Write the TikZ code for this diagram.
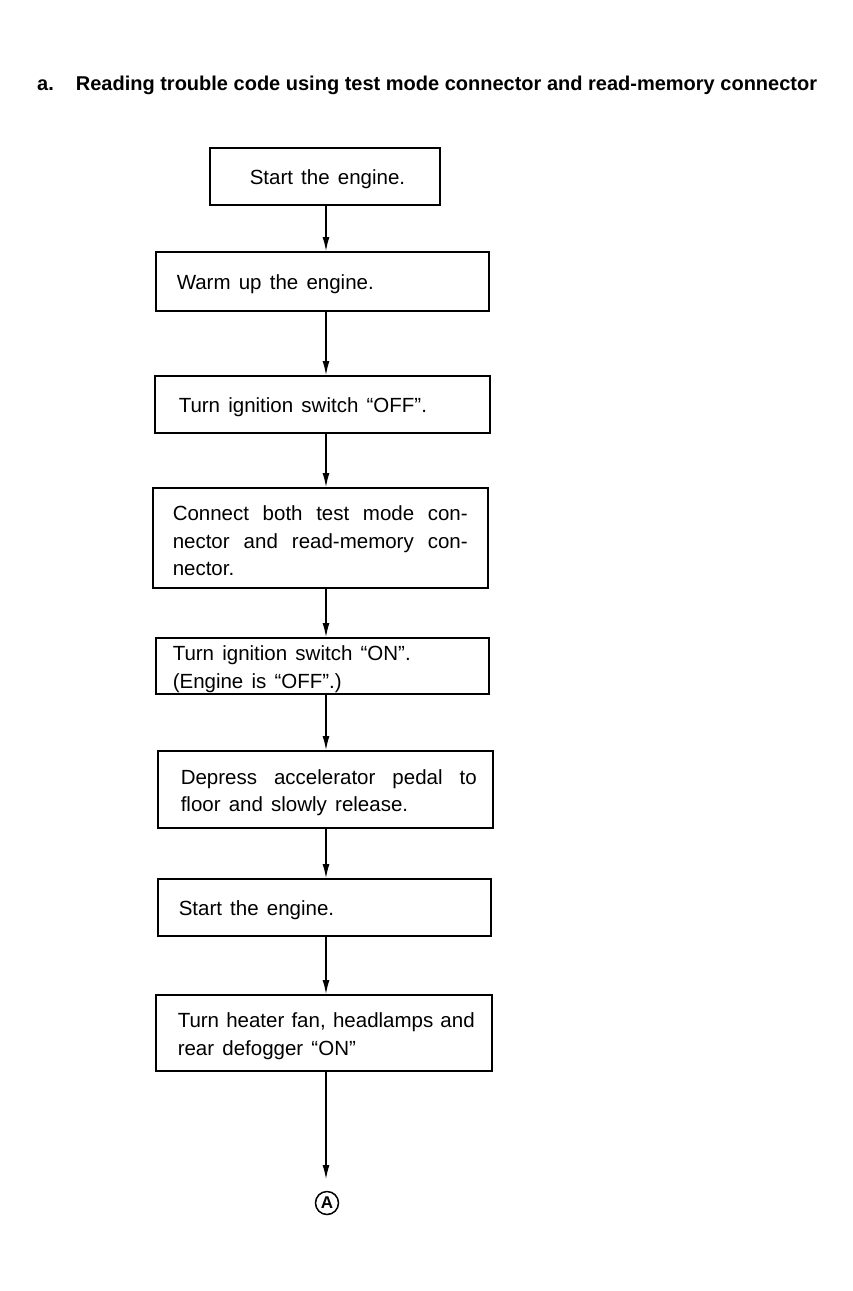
\documentclass[tikz,border=0pt]{standalone}
\usepackage{fontspec}
\setmainfont{Liberation Sans}
\usetikzlibrary{arrows.meta}
\newcommand{\jline}[2]{\makebox[#1][s]{#2}}
\newcommand{\widespaces}{\spaceskip=0.40em plus 0.3em minus 0.1em\relax}
\begin{document}
\begin{tikzpicture}[x=1pt,y=-1pt,
  stepbox/.style={draw, line width=1.5pt, anchor=north west, align=left, inner ysep=0pt,
    font=\fontsize{20.5}{27.5}\selectfont, execute at begin node={\widespaces\rule{0pt}{21.5pt}}},
  flow/.style={line width=1.2pt, -{Latex[length=14pt,width=7pt]}},
  titlestyle/.style={anchor=base west, inner sep=0pt, font=\bfseries\fontsize{20}{22}\selectfont},
  circ/.style={draw, circle, line width=1.5pt, minimum size=23pt, inner sep=0pt, font=\bfseries\fontsize{17}{17}\selectfont}]
\useasboundingbox (0,0) rectangle (853,1291);
\node[titlestyle] (title) at (37,90) {a.\hspace{22pt}Reading trouble code using test mode connector and read-memory connector};
\coordinate (ax) at (326,0);
\node[stepbox, text width=150pt, inner xsep=40pt, minimum height=57pt] (s1) at (209,147) {\mbox{Start the engine.}};
\node[stepbox, text width=291pt, inner xsep=21pt, minimum height=59pt] (s2) at (155,251) {Warm up the engine.};
\node[stepbox, text width=287pt, inner xsep=24pt, minimum height=57pt] (s3) at (154,375) {Turn ignition switch ``OFF''.};
\node[stepbox, text width=295pt, inner xsep=20pt, minimum height=100pt] (s4) at (152,487) {\jline{295pt}{Connect both test mode con-}\\\jline{295pt}{nector and read-memory con-}\\nector.};
\node[stepbox, text width=299pt, inner xsep=17pt, minimum height=56pt] (s5) at (155,637) {Turn ignition switch ``ON''.\\(Engine is ``OFF''.)};
\node[stepbox, text width=289pt, inner xsep=23pt, minimum height=77pt] (s6) at (157,750) {\jline{296pt}{Depress accelerator pedal to}\\floor and slowly release.};
\node[stepbox, text width=291pt, inner xsep=21pt, minimum height=57pt] (s7) at (157,878) {Start the engine.};
\node[stepbox, text width=292pt, inner xsep=22pt, minimum height=76pt] (s8) at (155,994) {\jline{297pt}{Turn heater fan, headlamps and}\\rear defogger ``ON''};
\coordinate (aend) at (326,1179);
\node[circ] (A) at (327,1203) {A};
\draw[flow] (s1.south -| ax) -- (s2.north -| ax);
\draw[flow] (s2.south -| ax) -- (s3.north -| ax);
\draw[flow] (s3.south -| ax) -- (s4.north -| ax);
\draw[flow] (s4.south -| ax) -- (s5.north -| ax);
\draw[flow] (s5.south -| ax) -- (s6.north -| ax);
\draw[flow] (s6.south -| ax) -- (s7.north -| ax);
\draw[flow] (s7.south -| ax) -- (s8.north -| ax);
\draw[flow] (s8.south -| ax) -- (aend);
\end{tikzpicture}
\end{document}
